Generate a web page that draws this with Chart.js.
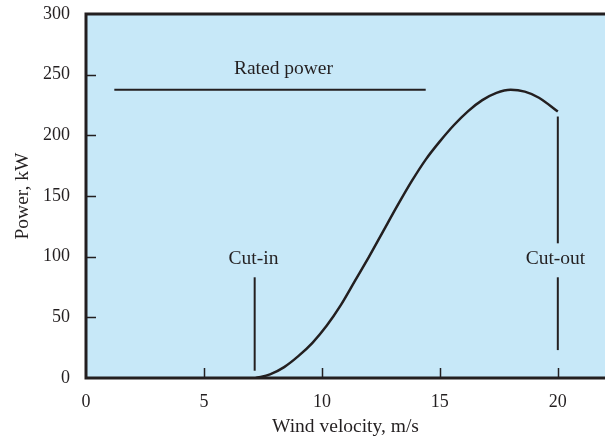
<!DOCTYPE html>
<html>
<head>
<meta charset="utf-8">
<script src="https://cdn.jsdelivr.net/npm/chart.js@4/dist/chart.umd.min.js"></script>
<style>
  html, body { margin: 0; padding: 0; background: #fff; }
  #wrap { width: 605px; height: 442px; }
</style>
</head>
<body>
<div id="wrap"><canvas id="grafico"></canvas></div>
<script>
// curva de potência (velocidade m/s, potência kW)
const velocidades = [7.2, 7.8, 8.4, 9.0, 9.6, 10.2, 10.8, 11.4, 12.0, 12.6, 13.2, 13.8, 14.4, 15.0, 15.6, 16.2, 16.8, 17.4, 18.0, 18.6, 19.2, 20.0];
const potencias   = [0,   3,   9,   18,  29,  43,   60,   80,   100,  121,  142,  162,  180,  195,  208.5, 220, 229, 235, 237.5, 236, 231, 219.6];

// linhas de referência
const potenciaNominal = { x: [1.2, 14.4], y: 237.5 };
const cutIn  = { x: 7.15, y: [6, 83] };
const cutOut = { x: 20, trechos: [[111, 215.5], [23, 83]] };

// rótulos
const rotulos = [
  { texto: "Rated power", x: 8.37, y: 255 },
  { texto: "Cut-in", x: 7.1, y: 98 },
  { texto: "Cut-out", x: 19.9, y: 98 }
];

const ticksX = [0, 5, 10, 15, 20];
const ticksY = [0, 50, 100, 150, 200, 250, 300];

const corLinha = "#231f20";
const fonte = "'Liberation Serif', 'Times New Roman', serif";

const pontos = velocidades.map((v, i) => ({ x: v, y: potencias[i] }));

const linhaRef = (data) => ({
  data,
  borderColor: corLinha,
  borderWidth: 2,
  pointRadius: 0,
  tension: 0,
  fill: false
});

const datasets = [
  {
    data: pontos,
    borderColor: corLinha,
    borderWidth: 2.5,
    pointRadius: 0,
    cubicInterpolationMode: "monotone",
    fill: false
  },
  linhaRef(potenciaNominal.x.map(x => ({ x, y: potenciaNominal.y }))),
  linhaRef(cutIn.y.map(y => ({ x: cutIn.x, y }))),
  ...cutOut.trechos.map(t => linhaRef(t.map(y => ({ x: cutOut.x, y }))))
];

// fundo azul, moldura, marcas internas e rótulos
const moldura = {
  id: "moldura",
  beforeDraw(chart) {
    const { ctx, chartArea: a } = chart;
    ctx.save();
    ctx.fillStyle = "#c7e8f8";
    ctx.fillRect(a.left, a.top, a.right - a.left, a.bottom - a.top);
    ctx.restore();
  },
  afterDraw(chart) {
    const { ctx, chartArea: a, scales } = chart;
    ctx.save();
    ctx.strokeStyle = corLinha;
    ctx.lineWidth = 1.5;
    ctx.beginPath();
    ticksX.slice(1).forEach(v => {
      const px = Math.round(scales.x.getPixelForValue(v)) + 0.5;
      ctx.moveTo(px, a.bottom);
      ctx.lineTo(px, a.bottom - 10);
    });
    ticksY.slice(1, -1).forEach(v => {
      const py = Math.round(scales.y.getPixelForValue(v)) + 0.5;
      ctx.moveTo(a.left, py);
      ctx.lineTo(a.left + 10, py);
    });
    ctx.stroke();

    ctx.lineWidth = 3;
    ctx.beginPath();
    ctx.moveTo(a.right + 2, a.top);
    ctx.lineTo(a.left, a.top);
    ctx.lineTo(a.left, a.bottom);
    ctx.lineTo(a.right + 2, a.bottom);
    ctx.stroke();

    ctx.fillStyle = corLinha;
    ctx.font = "19.5px " + fonte;
    ctx.textAlign = "center";
    ctx.textBaseline = "middle";
    rotulos.forEach(r => {
      ctx.fillText(r.texto, scales.x.getPixelForValue(r.x), scales.y.getPixelForValue(r.y));
    });
    ctx.restore();
  }
};

new Chart(document.getElementById("grafico"), {
  type: "line",
  data: { datasets },
  options: {
    responsive: true,
    maintainAspectRatio: false,
    animation: false,
    layout: { padding: { top: 14, right: 0, left: 0, bottom: 0 } },
    plugins: {
      legend: { display: false },
      tooltip: { enabled: false }
    },
    scales: {
      x: {
        type: "linear",
        min: 0,
        max: 22,
        afterBuildTicks: s => { s.ticks = ticksX.map(value => ({ value })); },
        afterFit: s => { s.height = 64; s.paddingLeft = 0; s.paddingRight = 0; },
        grid: { display: false, drawTicks: false },
        border: { display: false },
        ticks: {
          color: corLinha,
          padding: 13,
          font: { family: fonte, size: 18 },
          maxRotation: 0
        },
        title: {
          display: true,
          text: "Wind velocity, m/s",
          color: corLinha,
          font: { family: fonte, size: 19.5 },
          padding: { top: 0, bottom: 3 }
        }
      },
      y: {
        min: 0,
        max: 300,
        afterBuildTicks: s => { s.ticks = ticksY.map(value => ({ value })); },
        afterFit: s => { s.width = 86; s.paddingTop = 0; s.paddingBottom = 0; },
        grid: { display: false, drawTicks: false },
        border: { display: false },
        ticks: {
          color: corLinha,
          padding: 16,
          font: { family: fonte, size: 18 }
        },
        title: {
          display: true,
          text: "Power, kW",
          color: corLinha,
          font: { family: fonte, size: 19.5 },
          padding: { top: 11, bottom: 0 }
        }
      }
    }
  },
  plugins: [moldura]
});
</script>
</body>
</html>
